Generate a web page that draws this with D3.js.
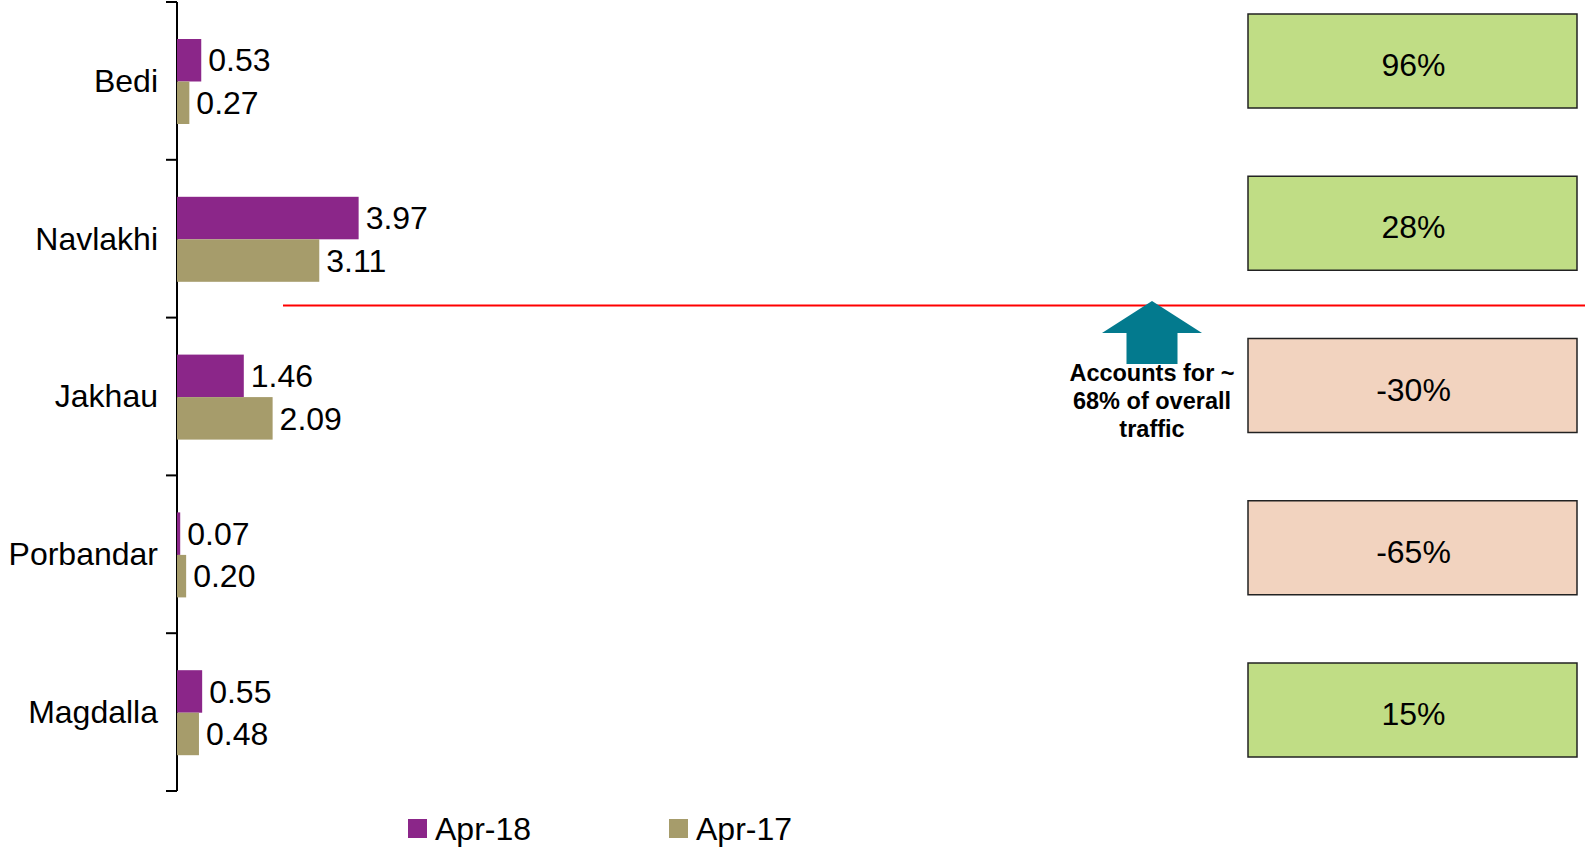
<!DOCTYPE html>
<html>
<head>
<meta charset="utf-8">
<script src="https://cdn.jsdelivr.net/npm/d3@7"></script>
<style>
  html, body { margin: 0; padding: 0; background: #fff; }
  svg { display: block; font-family: Arial, "Liberation Sans", sans-serif; }
</style>
</head>
<body>
<div id="chart"></div>
<script>
// data
const ports = ['Bedi', 'Navlakhi', 'Jakhau', 'Porbandar', 'Magdalla'];
const seriesNames = ['Apr-18', 'Apr-17'];
const apr18 = [0.53, 3.97, 1.46, 0.07, 0.55];
const apr17 = [0.27, 3.11, 2.09, 0.20, 0.48];
const growth = [96, 28, -30, -65, 15];
const noteLines = ['Accounts for ~', '68% of overall', 'traffic'];

const colors = { 'Apr-18': '#8B2689', 'Apr-17': '#A69C6B' };

const width = 1585, height = 850;
const fontSize = '32px';
const svg = d3.select('#chart').append('svg')
  .attr('width', width)
  .attr('height', height);

// scales
const axisX = 177;
const y = d3.scaleBand().domain(ports).range([2, 791]);
const ySub = d3.scaleBand().domain(seriesNames).range([37, 122]);
const x = d3.scaleLinear().domain([0, 4]).range([axisX, axisX + 183]);

const rows = ports.map((p, i) => ({
  port: p,
  values: [
    { key: 'Apr-18', value: apr18[i] },
    { key: 'Apr-17', value: apr17[i] }
  ]
}));

// axis: vertical line with ticks at category boundaries
const axisG = svg.append('g');
axisG.append('line')
  .attr('x1', axisX).attr('x2', axisX)
  .attr('y1', y.range()[0]).attr('y2', y.range()[1])
  .attr('stroke', '#000').attr('stroke-width', 2);
const bounds = ports.map(p => y(p)).concat([y.range()[1]]);
axisG.selectAll('line.tick')
  .data(bounds)
  .join('line')
  .attr('class', 'tick')
  .attr('x1', axisX - 11).attr('x2', axisX)
  .attr('y1', d => d).attr('y2', d => d)
  .attr('stroke', '#000').attr('stroke-width', 2);

// category labels
svg.append('g').selectAll('text')
  .data(ports)
  .join('text')
  .attr('x', 158)
  .attr('y', d => y(d) + y.bandwidth() / 2)
  .attr('dy', '0.34em')
  .attr('text-anchor', 'end')
  .style('font-size', fontSize)
  .attr('fill', '#000')
  .text(d => d);

// bars
const groups = svg.append('g').selectAll('g')
  .data(rows)
  .join('g')
  .attr('transform', d => `translate(0,${y(d.port)})`);

groups.selectAll('rect')
  .data(d => d.values)
  .join('rect')
  .attr('x', x(0))
  .attr('y', d => ySub(d.key))
  .attr('width', d => x(d.value) - x(0))
  .attr('height', ySub.bandwidth())
  .attr('fill', d => colors[d.key]);

groups.selectAll('text')
  .data(d => d.values)
  .join('text')
  .attr('x', d => x(d.value) + 7)
  .attr('y', d => ySub(d.key) + ySub.bandwidth() / 2)
  .attr('dy', '0.35em')
  .style('font-size', fontSize)
  .attr('fill', '#000')
  .text(d => d3.format('.2f')(d.value));

// legend
const legend = svg.append('g').selectAll('g')
  .data(seriesNames)
  .join('g')
  .attr('transform', (d, i) => `translate(${408 + i * 261},819)`);
legend.append('rect')
  .attr('width', 19).attr('height', 19)
  .attr('fill', d => colors[d]);
legend.append('text')
  .attr('x', 27).attr('y', 21)
  .style('font-size', fontSize)
  .attr('fill', '#000')
  .text(d => d);

// growth boxes
const yBox = d3.scalePoint().domain(ports).range([61, 710]);
const boxW = 329, boxH = 94, boxX = 1248;
const boxes = svg.append('g').selectAll('g')
  .data(ports.map((p, i) => ({ port: p, g: growth[i] })))
  .join('g')
  .attr('transform', d => `translate(${boxX},${yBox(d.port) - boxH / 2})`);
boxes.append('rect')
  .attr('width', boxW).attr('height', boxH)
  .attr('fill', d => d.g >= 0 ? '#C0DD85' : '#F2D3BF')
  .attr('stroke', '#222').attr('stroke-width', 1.5);
boxes.append('text')
  .attr('x', boxW / 2 + 1)
  .attr('y', boxH / 2 + 15)
  .attr('text-anchor', 'middle')
  .style('font-size', fontSize)
  .attr('fill', '#000')
  .text(d => d.g + '%');

// divider line and note
svg.append('line')
  .attr('x1', 283).attr('x2', width)
  .attr('y1', 305.5).attr('y2', 305.5)
  .attr('stroke', '#FF0000').attr('stroke-width', 2);

const ax = 1152;
svg.append('path')
  .attr('d', `M${ax},301 L${ax + 50},333 L${ax + 25.5},333 L${ax + 25.5},364 L${ax - 25.5},364 L${ax - 25.5},333 L${ax - 50},333 Z`)
  .attr('fill', '#037A8E');

svg.append('g').selectAll('text')
  .data(noteLines)
  .join('text')
  .attr('x', ax)
  .attr('y', (d, i) => 381 + i * 28)
  .attr('text-anchor', 'middle')
  .style('font-size', '23.5px')
  .style('font-weight', 'bold')
  .attr('fill', '#000')
  .text(d => d);
</script>
</body>
</html>
